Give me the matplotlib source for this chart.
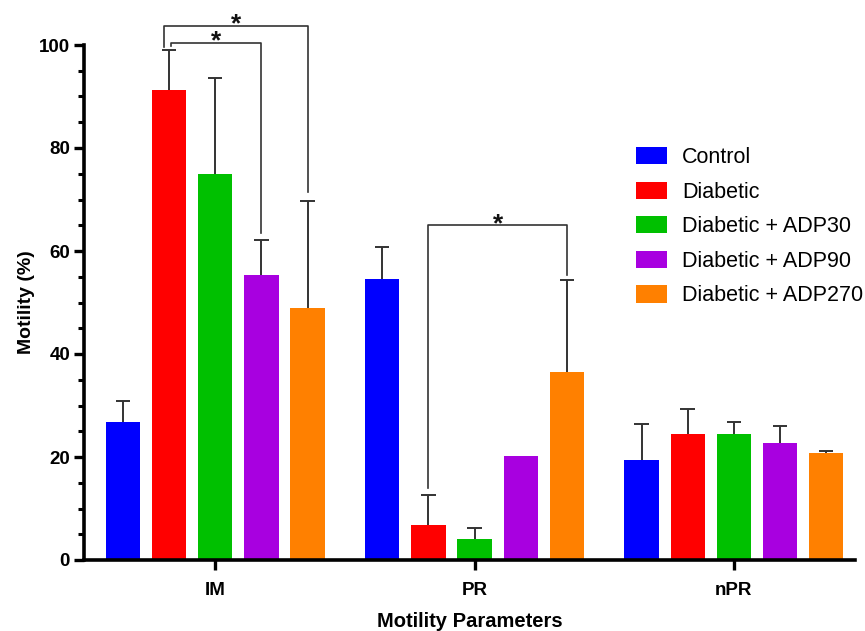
import numpy as np
import matplotlib
matplotlib.use("Agg")
import matplotlib.pyplot as plt

plt.rcParams['font.family'] = ['Liberation Sans', 'DejaVu Sans']

groups = ["IM", "PR", "nPR"]
series = ["Control", "Diabetic", "Diabetic + ADP30", "Diabetic + ADP90", "Diabetic + ADP270"]
colors = ["#0000FF", "#FF0000", "#00C000", "#A800E0", "#FF8000"]

# mean values per series (IM, PR, nPR)
means = [
    [26.7, 54.5, 19.4],
    [91.2, 6.7, 24.5],
    [75.0, 4.0, 24.5],
    [55.3, 20.2, 22.7],
    [49.0, 36.5, 20.7],
]
# upper error (SD)
errs = [
    [4.1, 6.3, 7.1],
    [7.8, 6.0, 4.8],
    [18.5, 2.2, 2.3],
    [6.8, 0.0, 3.3],
    [20.8, 17.8, 0.4],
]

# significance brackets: (group, left bar, right bar, top y, left leg end, right leg end)
brackets = [
    (0, 1, 4, 103.7, 99.6, 71.5),
    (0, 1, 3, 100.4, 99.9, 63.5),
    (1, 1, 4, 65.0, 14.0, 55.3),
]
bracket_dx = [-0.02, 0.006, 0.0]

step = 0.178
width = 0.132
cap = 0.028
x = np.arange(len(groups))

fig = plt.figure(figsize=(8.65, 6.31), dpi=100)
ax = fig.add_axes([84 / 865, 1 - 560 / 631, (855 - 84) / 865, (560 - 45) / 631])

for i, (name, col) in enumerate(zip(series, colors)):
    pos = x + (i - 2) * step
    mv = np.array(means[i])
    e = np.array(errs[i])
    ax.bar(pos, mv, width=width, color=col, label=name, zorder=2)
    m = e > 0
    ax.vlines(pos[m], mv[m], mv[m] + e[m], color='#333333', lw=1.4, zorder=3)
    ax.hlines(mv[m] + e[m], pos[m] - cap, pos[m] + cap, color='#333333', lw=1.4, zorder=3)

for (g, b1, b2, top, yl, yr), dx in zip(brackets, bracket_dx):
    x1 = g + (b1 - 2) * step + dx
    x2 = g + (b2 - 2) * step
    ax.plot([x1, x1, x2, x2], [yl, top, top, yr], color='#333333', lw=1.2,
            clip_on=False, zorder=4)
    ax.text((x1 + x2) / 2, top - 1.1, "*", ha='center', va='baseline',
            fontsize=19, fontweight='bold', color='#111111', clip_on=False)

ax.set_xlim(-0.506, 2.467)
ax.set_ylim(0, 100)
ax.set_yticks([0, 20, 40, 60, 80, 100])
ax.set_yticks(np.arange(0, 101, 5), minor=True)
ax.set_xticks(x)
ax.set_xticklabels(groups)

for s in ["top", "right"]:
    ax.spines[s].set_visible(False)
for s in ["left", "bottom"]:
    ax.spines[s].set_linewidth(2.6)
    ax.spines[s].set_color('black')

ax.tick_params(axis='both', which='major', length=7, width=2.4, labelsize=13.5, pad=3)
ax.tick_params(axis='y', which='minor', length=4.5, width=2.2)
ax.tick_params(axis='x', which='minor', length=0)
for lab in ax.get_xticklabels() + ax.get_yticklabels():
    lab.set_fontweight('bold')
ax.tick_params(axis='x', pad=9)

ax.set_ylabel("Motility (%)", fontsize=14, fontweight='bold', labelpad=3)
ax.set_xlabel("Motility Parameters", fontsize=14.5, fontweight='bold', labelpad=9)

ax.legend(loc='upper left', bbox_to_anchor=(636 / 865, 1 - 147 / 631),
          bbox_transform=fig.transFigure, frameon=False, fontsize=15.5,
          handlelength=1.45, handleheight=0.85, handletextpad=0.68,
          labelspacing=0.63, borderpad=0, borderaxespad=0)

fig.savefig("out.png", dpi=100)
